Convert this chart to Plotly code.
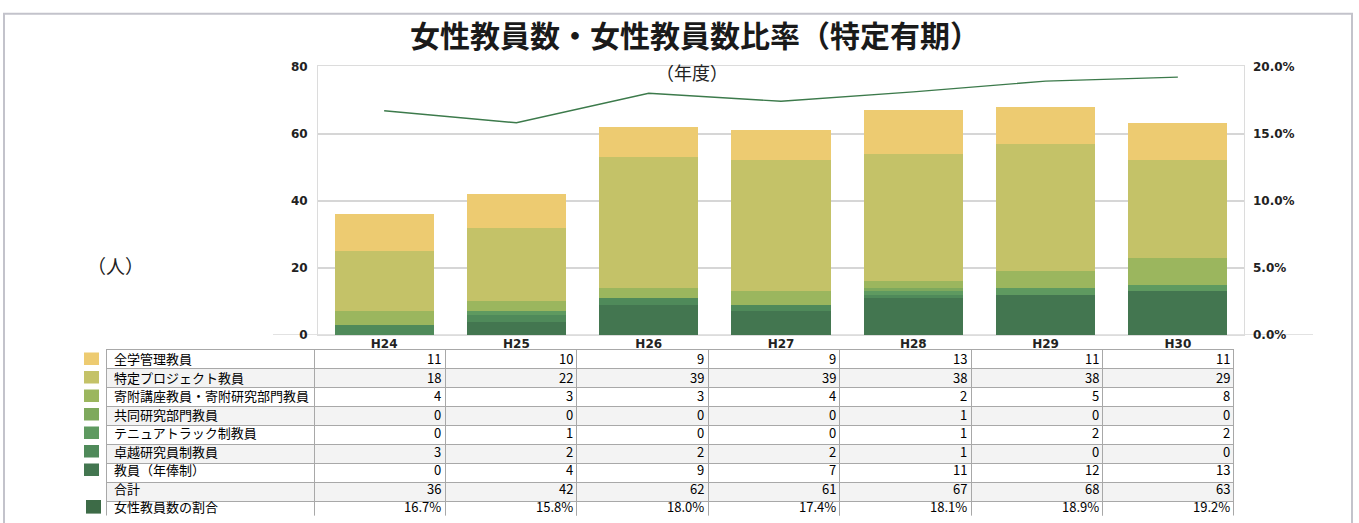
import plotly.graph_objects as go

# ---- data -------------------------------------------------------------
years = ["H24", "H25", "H26", "H27", "H28", "H29", "H30"]

# series listed from the top row of the table down to the bottom row
series_names = [
    "全学管理教員",
    "特定プロジェクト教員",
    "寄附講座教員・寄附研究部門教員",
    "共同研究部門教員",
    "テニュアトラック制教員",
    "卓越研究員制教員",
    "教員（年俸制）",
]
zengaku = [11, 10, 9, 9, 13, 11, 11]
tokutei_pj = [18, 22, 39, 39, 38, 38, 29]
kifu = [4, 3, 3, 4, 2, 5, 8]
kyodo = [0, 0, 0, 0, 1, 0, 0]
tenure = [0, 1, 0, 0, 1, 2, 2]
takuetsu = [3, 2, 2, 2, 1, 0, 0]
nenpo = [0, 4, 9, 7, 11, 12, 13]
totals = [36, 42, 62, 61, 67, 68, 63]
ratio_pct = [16.7, 15.8, 18.0, 17.4, 18.1, 18.9, 19.2]

series_values = [zengaku, tokutei_pj, kifu, kyodo, tenure, takuetsu, nenpo]
series_colors = ["#edcb71", "#c4c268", "#9bb65e", "#7ea95d",
                 "#5e9a60", "#4f8a5a", "#437650"]
line_color = "#3c7a4b"
swatch_line_color = "#3d6b47"

W, H = 1359, 523


def px(x):
    return x / W


def py(y):
    return 1 - y / H


fig = go.Figure()

# stacked bars: bottom segment first
for name, vals, col in reversed(list(zip(series_names, series_values, series_colors))):
    fig.add_trace(go.Bar(
        x=years, y=vals, name=name, marker=dict(color=col, line=dict(width=0)),
        width=0.75, showlegend=False, hoverinfo="skip",
    ))

# share of female faculty on the secondary axis
fig.add_trace(go.Scatter(
    x=years, y=[v / 100 for v in ratio_pct], yaxis="y2", mode="lines",
    line=dict(color=line_color, width=1.4), showlegend=False, hoverinfo="skip",
))

# ---- data table -------------------------------------------------------
row_labels = series_names + ["合計", "女性教員数の割合"]
row_values = series_values + [totals, [f"{v:.1f}%" for v in ratio_pct]]
rows = [[lab] + [str(v) for v in vals] for lab, vals in zip(row_labels, row_values)]
n_rows = len(rows)
n_cols = len(rows[0])

row_h = 19
table_left, table_top, table_right = 106, 352, 1234
label_w = 208
value_w = (table_right - table_left - label_w) / len(years)
col_widths = [label_w] + [value_w] * len(years)
fills = ["#ffffff" if i % 2 == 0 else "#f3f3f3" for i in range(n_rows)]
grid_line = dict(color="#a8a8a8", width=1)

# grid: cell fills and rules (first row carried by the header block)
fig.add_trace(go.Table(
    domain=dict(x=[px(table_left), px(table_right)], y=[0, py(table_top)]),
    columnwidth=col_widths,
    header=dict(values=[""] * n_cols, height=row_h,
                fill=dict(color=fills[0]), line=grid_line),
    cells=dict(values=[[""] * (n_rows - 1)] * n_cols, height=row_h,
               fill=dict(color=[fills[1:]] * n_cols), line=grid_line),
))

# hidden axes spanning the table: x in pixels across it, y in rows downwards
fig.add_trace(go.Scatter(x=[], y=[], xaxis="x3", yaxis="y3", showlegend=False))

col_edges = [0]
for w in col_widths:
    col_edges.append(col_edges[-1] + w)

cell_font = dict(family="Noto Sans CJK JP", size=13, color="#000000")
annotations = []
for r, row in enumerate(rows):
    for c, txt in enumerate(row):
        if c == 0:
            xa, xv = "left", col_edges[0] + 6
        else:
            xa, xv = "right", col_edges[c + 1] - 2
        annotations.append(dict(
            text=txt, xref="x3", yref="y3", x=xv, y=r + 0.5,
            xanchor=xa, yanchor="middle", showarrow=False, font=cell_font,
        ))

# ---- shapes: frame, baseline, colour keys ----------------------------
shapes = [
    dict(type="rect", xref="paper", yref="paper", x0=px(4), x1=px(1352),
         y0=-0.05, y1=py(7), line=dict(color="#c3c3cb", width=2)),
    dict(type="line", xref="paper", yref="y", x0=px(273), x1=px(1313), y0=0, y1=0,
         line=dict(color="#e2e2e2", width=2), layer="below"),
]
for i, col in enumerate(series_colors):
    shapes.append(dict(type="rect", xref="paper", yref="y3",
                       x0=px(84), x1=px(99), y0=i + 0.16, y1=i + 0.84,
                       fillcolor=col, line=dict(width=0)))
shapes.append(dict(type="rect", xref="paper", yref="y3",
                   x0=px(86), x1=px(101), y0=n_rows - 1 + 0.13, y1=n_rows - 0.13,
                   fillcolor=swatch_line_color, line=dict(width=0)))

tick_font = dict(family="DejaVu Sans", size=12, color="#222222", weight="bold")
note_font = dict(family="Noto Sans CJK JP", size=18, color="#222222")

annotations += [
    dict(text="女性教員数・女性教員数比率（特定有期）", xref="paper", yref="paper",
         x=px(695), y=py(28), xanchor="center", yanchor="middle", showarrow=False,
         font=dict(family="Noto Sans CJK JP", size=30, color="#1a1a1a", weight="bold")),
    dict(text="（年度）", xref="paper", yref="paper",
         x=px(692), y=py(67), xanchor="center", yanchor="middle", showarrow=False,
         font=note_font),
    dict(text="（人）", xref="paper", yref="paper",
         x=px(115), y=py(266), xanchor="center", yanchor="middle", showarrow=False,
         font=dict(note_font, size=19)),
]

fig.update_layout(
    width=W, height=H, margin=dict(l=0, r=0, t=0, b=0),
    paper_bgcolor="white", plot_bgcolor="white",
    barmode="stack", bargap=0.25,
    shapes=shapes, annotations=annotations,
    xaxis=dict(
        domain=[px(318), px(1244)], range=[-0.5, 6.5], type="category",
        showline=True, linecolor="#dcdcdc", linewidth=1, mirror=True,
        showgrid=False, ticks="", tickfont=tick_font, ticklabelstandoff=-2,
    ),
    yaxis=dict(
        domain=[py(337), py(61)], range=[0, 80], tickvals=[0, 20, 40, 60, 80],
        showline=True, linecolor="#dcdcdc", linewidth=1, mirror=True,
        showgrid=True, gridcolor="#d6d6d6", gridwidth=1.5, zeroline=False,
        ticks="", tickfont=tick_font, ticklabelstandoff=7,
    ),
    yaxis2=dict(
        overlaying="y", side="right", range=[0, 0.2],
        tickvals=[0, 0.05, 0.10, 0.15, 0.20], tickformat=".1%",
        showgrid=False, zeroline=False, showline=False,
        ticks="", tickfont=tick_font, ticklabelstandoff=8,
    ),
    xaxis3=dict(domain=[px(table_left), px(table_right)],
                range=[0, table_right - table_left], anchor="y3", visible=False),
    yaxis3=dict(domain=[0, py(table_top)], range=[n_rows, 0], anchor="x3",
                visible=False),
)

fig.write_html("out.html")
